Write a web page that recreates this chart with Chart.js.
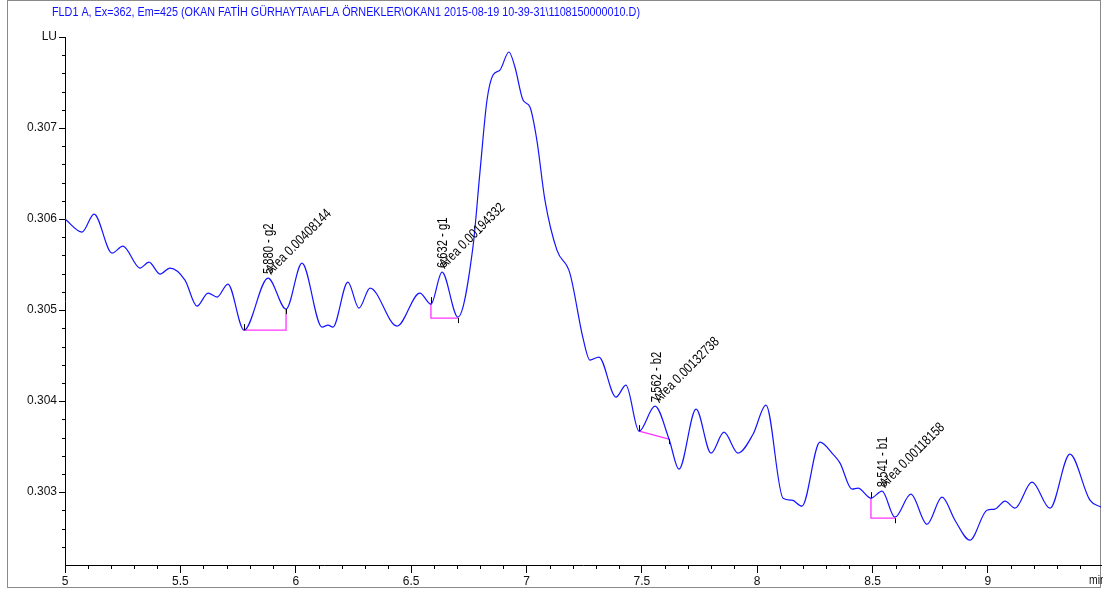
<!DOCTYPE html>
<html>
<head>
<meta charset="utf-8">
<script src="https://cdn.jsdelivr.net/npm/chart.js@4"></script>
<style>
  html, body { margin: 0; padding: 0; background: #fff; }
</style>
</head>
<body>
<canvas id="chartCanvas" width="1103" height="592"></canvas>
<script>
const FONT = "'Liberation Sans', Arial, sans-serif";
const NARROW = 0.8; // the original uses a condensed face

const titleText = "FLD1 A, Ex=362, Em=425 (OKAN FATİH GÜRHAYTA\\AFLA ÖRNEKLER\\OKAN1 2015-08-19 10-39-31\\1108150000010.D)";

// retention time (min) / fluorescence signal (LU)
const times = [
  5.000, 5.074, 5.126, 5.204, 5.251, 5.325, 5.364, 5.412, 5.455, 5.520,
  5.572, 5.620, 5.659, 5.706, 5.776, 5.880, 5.958, 6.027, 6.114, 6.140,
  6.161, 6.226, 6.274, 6.322, 6.439, 6.538, 6.586, 6.634, 6.703, 6.768,
  6.798, 6.829, 6.855, 6.885, 6.924, 6.950, 6.985, 7.015, 7.045, 7.080,
  7.132, 7.188, 7.245, 7.275, 7.314, 7.388, 7.431, 7.488, 7.557, 7.618,
  7.661, 7.735, 7.800, 7.856, 7.917, 7.982, 8.038, 8.112, 8.151, 8.194,
  8.272, 8.328, 8.359, 8.411, 8.437, 8.493, 8.541, 8.597, 8.666, 8.736,
  8.801, 8.857, 8.922, 8.996, 9.030, 9.074, 9.117, 9.191, 9.269, 9.355,
  9.442, 9.490
];
const signal = [
  0.306000, 0.305857, 0.306055, 0.305626, 0.305703, 0.305462, 0.305527, 0.305396, 0.305462, 0.305330,
  0.305044, 0.305187, 0.305143, 0.305286, 0.304780, 0.305352, 0.305011, 0.305516, 0.304813, 0.304835,
  0.304813, 0.305308, 0.305022, 0.305242, 0.304824, 0.305187, 0.305066, 0.305418, 0.304923, 0.305692,
  0.306505, 0.307308, 0.307582, 0.307637, 0.307835, 0.307670, 0.307308, 0.307231, 0.306868, 0.306209,
  0.305659, 0.305407, 0.304692, 0.304451, 0.304484, 0.304044, 0.304176, 0.303670, 0.303945, 0.303582,
  0.303253, 0.303912, 0.303429, 0.303659, 0.303429, 0.303637, 0.303956, 0.302934, 0.302912, 0.302846,
  0.303549, 0.303418, 0.303319, 0.303033, 0.303044, 0.302934, 0.303011, 0.302725, 0.302978, 0.302648,
  0.302945, 0.302692, 0.302473, 0.302802, 0.302813, 0.302901, 0.302824, 0.303110, 0.302824, 0.303418,
  0.302912, 0.302835
];

const xTicks = [5, 5.5, 6, 6.5, 7, 7.5, 8, 8.5, 9];
const xTickLabels = ["5", "5.5", "6", "6.5", "7", "7.5", "8", "8.5", "9"];
const yTicks = [0.303, 0.304, 0.305, 0.306, 0.307, 0.308];
const yTickLabels = ["0.303", "0.304", "0.305", "0.306", "0.307", "LU"];

// integrated peaks
const peakNames = ["g2", "g1", "b2", "b1"];
const peakTimes = [5.880, 6.632, 7.562, 8.541];
const peakHeights = [0.305352, 0.305418, 0.303945, 0.303011];
const peakAreas = ["0.00408144", "0.00194332", "0.00132738", "0.00118158"];
const startX = [5.776, 6.586, 7.488, 8.493];
const startCurveY = [0.304780, 0.305077, 0.303670, 0.302934];
const baseStartY = [0.304780, 0.304912, 0.303670, 0.302714];
const endX = [5.958, 6.703, 7.618, 8.597];
const baseEndY = [0.304780, 0.304912, 0.303582, 0.302714];
const endCurveY = [0.305011, 0.304912, 0.303582, 0.302714];

const X_MIN = 5, X_MAX = 9.49, Y_MIN = 0.3022, Y_MAX = 0.308;

const baselineSets = peakNames.map((n, i) => ({
  label: "baseline " + n,
  data: [
    { x: startX[i], y: startCurveY[i] },
    { x: startX[i], y: baseStartY[i] },
    { x: endX[i], y: baseEndY[i] },
    { x: endX[i], y: endCurveY[i] },
  ],
  borderColor: "#ff33ff",
  borderWidth: 1.3,
  pointRadius: 0,
  tension: 0,
}));

// narrow text helper
function narrowText(ctx, text, x, y, angle) {
  ctx.save();
  ctx.translate(x, y);
  if (angle) ctx.rotate(angle);
  ctx.scale(NARROW, 1);
  ctx.fillText(text, 0, 0);
  ctx.restore();
}

// frame, title, minor ticks, peak labels
const decor = {
  id: "decor",
  beforeDraw(chart) {
    const ctx = chart.ctx;
    ctx.save();
    ctx.fillStyle = "#fff";
    ctx.fillRect(0, 0, chart.width, chart.height);
    ctx.strokeStyle = "#8a8a8a";
    ctx.lineWidth = 1;
    ctx.strokeRect(7.5, 0.5, 1093, 587);
    ctx.restore();
  },
  afterDraw(chart) {
    const ctx = chart.ctx;
    const xs = chart.scales.x, ys = chart.scales.y;
    const area = chart.chartArea;
    ctx.save();

    // title
    ctx.font = "13px " + FONT;
    ctx.fillStyle = "#1010ff";
    ctx.textBaseline = "middle";
    const tw = ctx.measureText(titleText).width;
    ctx.translate(52, 12);
    ctx.scale(588 / tw, 1);
    ctx.fillText(titleText, 0, 0);
    ctx.setTransform(1, 0, 0, 1, 0, 0);

    // minor ticks
    ctx.strokeStyle = "#000";
    ctx.lineWidth = 1;
    ctx.beginPath();
    for (let k = 1; k * 0.1 + X_MIN <= X_MAX; k++) {
      if (k % 5 === 0) continue;
      const px = Math.round(xs.getPixelForValue(X_MIN + k * 0.1)) + 0.5;
      ctx.moveTo(px, area.bottom);
      ctx.lineTo(px, area.bottom + 4);
    }
    for (let k = 1; Y_MIN + k * 0.0002 < Y_MAX; k++) {
      const v = Y_MIN + k * 0.0002;
      if (Math.abs(v * 1000 - Math.round(v * 1000)) < 1e-6) continue;
      const py = Math.round(ys.getPixelForValue(v)) + 0.5;
      ctx.moveTo(area.left - 3, py);
      ctx.lineTo(area.left, py);
    }
    ctx.stroke();

    // "min" unit label
    ctx.font = "13px " + FONT;
    ctx.fillStyle = "#111";
    ctx.textBaseline = "middle";
    ctx.textAlign = "left";
    narrowText(ctx, "min", 1089, 580, 0);

    // peak delimiters
    ctx.beginPath();
    peakNames.forEach((n, i) => {
      const sx = Math.round(xs.getPixelForValue(startX[i])) + 0.5;
      const sy = ys.getPixelForValue(startCurveY[i]);
      ctx.moveTo(sx, sy);
      ctx.lineTo(sx, sy - 6);
      const ex = Math.round(xs.getPixelForValue(endX[i])) + 0.5;
      const ey = ys.getPixelForValue(endCurveY[i]);
      ctx.moveTo(ex, ey);
      ctx.lineTo(ex, ey + 5);
    });
    ctx.stroke();

    // peak labels
    ctx.font = "14px " + FONT;
    ctx.fillStyle = "#000";
    ctx.textBaseline = "alphabetic";
    peakNames.forEach((n, i) => {
      const px = xs.getPixelForValue(peakTimes[i]);
      const py = ys.getPixelForValue(peakHeights[i]);
      narrowText(ctx, peakTimes[i].toFixed(3) + " - " + n, px + 5, py - 4, -Math.PI / 2);
      narrowText(ctx, "Area " + peakAreas[i], px + 3, py - 3, -Math.PI / 4);
    });
    ctx.restore();
  },
};

const ctx = document.getElementById("chartCanvas").getContext("2d");
const chart = new Chart(ctx, {
  type: "line",
  data: {
    datasets: [
      {
        label: "FLD1 A",
        data: times.map((t, i) => ({ x: t, y: signal[i] })),
        borderColor: "#1414ff",
        borderWidth: 1.2,
        pointRadius: 0,
        cubicInterpolationMode: "monotone",
      },
      ...baselineSets,
    ],
  },
  options: {
    responsive: false,
    animation: false,
    devicePixelRatio: 1,
    layout: { padding: { left: 0, right: 2, top: 37, bottom: 0 } },
    plugins: { legend: { display: false }, tooltip: { enabled: false }, title: { display: false } },
    scales: {
      x: {
        type: "linear",
        min: X_MIN,
        max: X_MAX,
        afterBuildTicks: (s) => { s.ticks = xTicks.map((v) => ({ value: v })); },
        afterFit: (s) => { s.height = 27; },
        ticks: {
          autoSkip: false,
          maxRotation: 0,
          padding: 1,
          color: "#111",
          font: { family: FONT, size: 12 },
          callback: (v, i) => xTickLabels[i],
        },
        grid: { drawOnChartArea: false, tickLength: 8, color: "#000" },
        border: { color: "#000", width: 1 },
      },
      y: {
        type: "linear",
        min: Y_MIN,
        max: Y_MAX,
        afterBuildTicks: (s) => { s.ticks = yTicks.map((v) => ({ value: v })); },
        afterFit: (s) => { s.width = 65; },
        ticks: {
          padding: 2,
          color: "#111",
          font: { family: FONT, size: 12 },
          callback: (v, i) => yTickLabels[i],
        },
        grid: { drawOnChartArea: false, tickLength: 6, color: "#000" },
        border: { color: "#000", width: 1 },
      },
    },
  },
  plugins: [decor],
});
</script>
</body>
</html>
